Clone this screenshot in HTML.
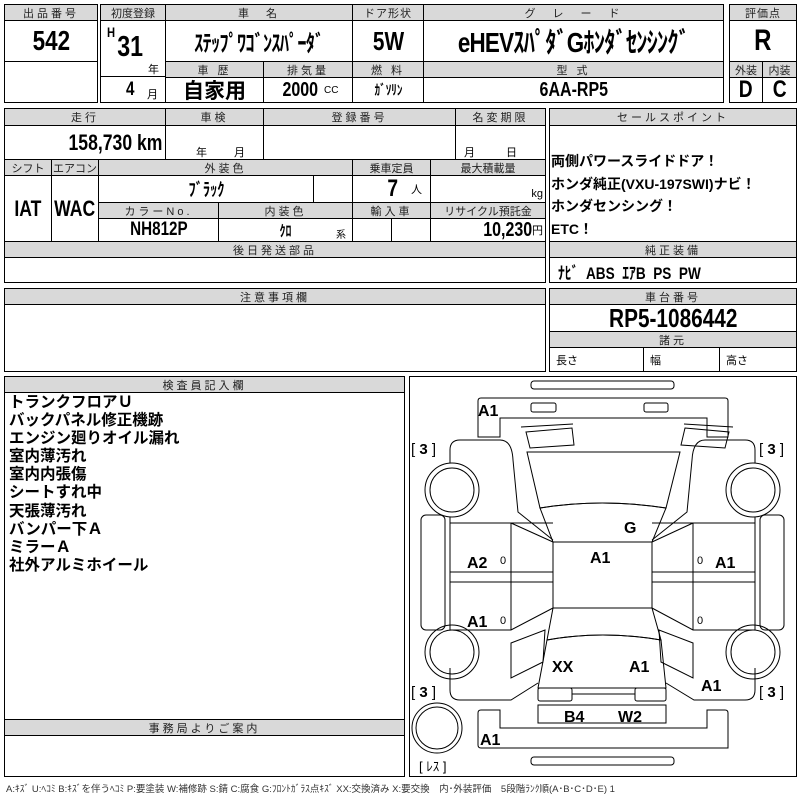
<!DOCTYPE html>
<html><head><meta charset="utf-8">
<style>
*{box-sizing:border-box;margin:0;padding:0}
body{width:800px;height:800px;background:#fff;position:relative;overflow:hidden;font-family:"Liberation Sans","Noto Sans CJK JP",sans-serif;color:#000}
.c{position:absolute;border:1px solid #000;display:flex;align-items:center;justify-content:center;white-space:nowrap;overflow:hidden}
.h{background:#d9d9d9;font-size:11px;letter-spacing:3px;color:#222}
.b{font-weight:bold}
.n{display:inline-block;transform:scaleX(.8)}
.nr{display:inline-block;transform:scaleX(.8);transform-origin:right center}
.t{position:absolute;white-space:nowrap}
.bx{position:absolute;border:1.5px solid #000}
</style></head><body>
<div class="bx" style="left:4px;top:4px;width:94px;height:99px"></div>
<div class="bx" style="left:100px;top:4px;width:624px;height:99px"></div>
<div class="bx" style="left:729px;top:4px;width:68px;height:99px"></div>

<div class="c h" style="left:4px;top:4px;width:94px;height:17px">出品番号</div>
<div class="c b" style="left:4px;top:20px;width:94px;height:42px;font-size:28px"><span class="n">542</span></div>
<div class="c" style="left:4px;top:61px;width:94px;height:42px"></div>

<div class="c h" style="left:100px;top:4px;width:66px;height:17px;letter-spacing:0">初度登録</div>
<div class="c h" style="left:165px;top:4px;width:188px;height:17px">車　名</div>
<div class="c h" style="left:352px;top:4px;width:72px;height:17px;letter-spacing:1px">ドア形状</div>
<div class="c h" style="left:423px;top:4px;width:301px;height:17px">グ　レ　ー　ド</div>
<div class="c" style="left:100px;top:20px;width:66px;height:83px"></div>
<div class="t b" style="left:106px;top:24px;font-size:14px"><span class="n">H</span></div>
<div class="t b" style="left:114px;top:31px;font-size:29px"><span class="n">31</span></div>
<div class="t" style="left:148px;top:61px;font-size:11px">年</div>
<div class="c" style="left:100px;top:76px;width:66px;height:27px;border-bottom:none;border-left:none;border-right:none"></div>
<div class="t b" style="left:125px;top:79px;font-size:19px"><span class="n">4</span></div>
<div class="t" style="left:147px;top:86px;font-size:11px">月</div>
<div class="c b" style="left:165px;top:20px;width:188px;height:42px;font-size:23px;letter-spacing:-1px"><span class="n">ｽﾃｯﾌﾟﾜｺﾞﾝｽﾊﾟｰﾀﾞ</span></div>
<div class="c b" style="left:352px;top:20px;width:72px;height:42px;font-size:26px"><span class="n">5W</span></div>
<div class="c b" style="left:423px;top:20px;width:301px;height:42px;font-size:28px;letter-spacing:-1px"><span class="n">eHEVｽﾊﾟﾀﾞGﾎﾝﾀﾞｾﾝｼﾝｸﾞ</span></div>
<div class="c h" style="left:165px;top:61px;width:99px;height:17px">車 歴</div>
<div class="c h" style="left:263px;top:61px;width:90px;height:17px">排気量</div>
<div class="c h" style="left:352px;top:61px;width:72px;height:17px">燃 料</div>
<div class="c h" style="left:423px;top:61px;width:301px;height:17px">型 式</div>
<div class="c" style="left:165px;top:77px;width:99px;height:26px;font-size:21px;font-weight:bold">自家用</div>
<div class="c b" style="left:263px;top:77px;width:90px;height:26px;font-size:20px"><span class="n">2000</span><span style="font-size:10px;font-weight:normal;margin-left:2px">CC</span></div>
<div class="c b" style="left:352px;top:77px;width:72px;height:26px;font-size:14px"><span class="n">ｶﾞｿﾘﾝ</span></div>
<div class="c b" style="left:423px;top:77px;width:301px;height:26px;font-size:20px"><span class="n">6AA-RP5</span></div>

<div class="c h" style="left:729px;top:4px;width:68px;height:17px;letter-spacing:1px">評価点</div>
<div class="c b" style="left:729px;top:20px;width:68px;height:42px;font-size:30px"><span class="n">R</span></div>
<div class="c h" style="left:729px;top:61px;width:34px;height:17px;letter-spacing:0">外装</div>
<div class="c h" style="left:762px;top:61px;width:35px;height:17px;letter-spacing:0">内装</div>
<div class="c b" style="left:729px;top:77px;width:34px;height:26px;font-size:24px"><span class="n">D</span></div>
<div class="c b" style="left:762px;top:77px;width:35px;height:26px;font-size:24px"><span class="n">C</span></div>

<div class="bx" style="left:4px;top:108px;width:542px;height:175px"></div>
<div class="c h" style="left:4px;top:108px;width:162px;height:18px">走行</div>
<div class="c h" style="left:165px;top:108px;width:99px;height:18px">車検</div>
<div class="c h" style="left:263px;top:108px;width:193px;height:18px">登録番号</div>
<div class="c h" style="left:455px;top:108px;width:91px;height:18px">名変期限</div>
<div class="c b" style="left:4px;top:125px;width:162px;height:35px;font-size:22px;justify-content:flex-end;padding-right:3px"><span class="nr">158,730 km</span></div>
<div class="c" style="left:165px;top:125px;width:99px;height:35px"></div>
<div class="t" style="left:196px;top:144px;font-size:11px">年</div>
<div class="t" style="left:234px;top:144px;font-size:11px">月</div>
<div class="c" style="left:263px;top:125px;width:193px;height:35px"></div>
<div class="c" style="left:455px;top:125px;width:91px;height:35px"></div>
<div class="t" style="left:464px;top:144px;font-size:11px">月</div>
<div class="t" style="left:506px;top:144px;font-size:11px">日</div>
<div class="c h" style="left:4px;top:159px;width:48px;height:17px;letter-spacing:0">シフト</div>
<div class="c h" style="left:51px;top:159px;width:48px;height:17px;letter-spacing:0">エアコン</div>
<div class="c h" style="left:98px;top:159px;width:255px;height:17px">外装色</div>
<div class="c h" style="left:352px;top:159px;width:79px;height:17px;letter-spacing:0">乗車定員</div>
<div class="c h" style="left:430px;top:159px;width:116px;height:17px;letter-spacing:0">最大積載量</div>
<div class="c b" style="left:4px;top:175px;width:48px;height:67px;font-size:22px"><span class="n">IAT</span></div>
<div class="c b" style="left:51px;top:175px;width:48px;height:67px;font-size:22px"><span class="n">WAC</span></div>
<div class="c b" style="left:98px;top:175px;width:216px;height:28px;font-size:18px"><span class="n">ﾌﾞﾗｯｸ</span></div>
<div class="c" style="left:313px;top:175px;width:40px;height:28px"></div>
<div class="c b" style="left:352px;top:175px;width:79px;height:28px;font-size:24px;justify-content:flex-end;padding-right:8px"><span class="n">7</span><span style="font-size:11px;font-weight:normal;margin-left:12px">人</span></div>
<div class="c" style="left:430px;top:175px;width:116px;height:28px;justify-content:flex-end;align-items:flex-end;padding:0 2px 2px 0;font-size:11px">kg</div>
<div class="c h" style="left:98px;top:202px;width:121px;height:17px">カラーNo.</div>
<div class="c h" style="left:218px;top:202px;width:135px;height:17px">内装色</div>
<div class="c h" style="left:352px;top:202px;width:79px;height:17px">輸入車</div>
<div class="c h" style="left:430px;top:202px;width:116px;height:17px;letter-spacing:0">リサイクル預託金</div>
<div class="c b" style="left:98px;top:218px;width:121px;height:24px;font-size:19px"><span class="n">NH812P</span></div>
<div class="c b" style="left:218px;top:218px;width:135px;height:24px;font-size:15px"><span class="n">ｸﾛ</span></div>
<div class="t" style="left:336px;top:226px;font-size:10px">系</div>
<div class="c" style="left:352px;top:218px;width:40px;height:24px"></div>
<div class="c" style="left:391px;top:218px;width:40px;height:24px"></div>
<div class="c b" style="left:430px;top:218px;width:116px;height:24px;font-size:20px;justify-content:flex-end;padding-right:2px"><span class="nr">10,230</span><span style="font-size:11px;font-weight:normal">円</span></div>
<div class="c h" style="left:4px;top:241px;width:542px;height:17px">後日発送部品</div>

<div class="bx" style="left:549px;top:108px;width:248px;height:175px"></div>
<div class="c h" style="left:549px;top:108px;width:248px;height:18px">セールスポイント</div>
<div class="t" style="left:551px;top:150px;font-size:14px;font-weight:bold;line-height:22.5px">両側パワースライドドア！<br>ホンダ純正(VXU-197SWI)ナビ！<br>ホンダセンシング！<br>ETC！</div>
<div class="c h" style="left:549px;top:241px;width:248px;height:17px">純正装備</div>
<div class="t b" style="left:558px;top:259px;font-size:17px;transform:scaleX(.8);transform-origin:left">ﾅﾋﾞ&nbsp; ABS&nbsp; ｴｱB&nbsp; PS&nbsp; PW</div>

<div class="bx" style="left:549px;top:288px;width:248px;height:84px"></div>
<div class="c h" style="left:549px;top:288px;width:248px;height:17px">車台番号</div>
<div class="c b" style="left:549px;top:304px;width:248px;height:28px;font-size:26px"><span class="n">RP5-1086442</span></div>
<div class="c h" style="left:549px;top:331px;width:248px;height:17px">諸元</div>
<div class="c" style="left:549px;top:347px;width:95px;height:25px;justify-content:flex-start;padding-left:6px;font-size:11px">長さ</div>
<div class="c" style="left:643px;top:347px;width:77px;height:25px;justify-content:flex-start;padding-left:6px;font-size:11px">幅</div>
<div class="c" style="left:719px;top:347px;width:78px;height:25px;justify-content:flex-start;padding-left:6px;font-size:11px">高さ</div>

<div class="bx" style="left:4px;top:288px;width:542px;height:84px"></div>
<div class="c h" style="left:4px;top:288px;width:542px;height:17px">注意事項欄</div>

<div class="bx" style="left:4px;top:376px;width:401px;height:401px"></div>
<div class="c h" style="left:4px;top:376px;width:401px;height:17px">検査員記入欄</div>
<div class="t" style="left:9px;top:394px;font-size:15.5px;font-weight:bold;line-height:18.1px">トランクフロアＵ<br>バックパネル修正機跡<br>エンジン廻りオイル漏れ<br>室内薄汚れ<br>室内内張傷<br>シートすれ中<br>天張薄汚れ<br>バンパー下Ａ<br>ミラーＡ<br>社外アルミホイール</div>
<div class="c h" style="left:4px;top:719px;width:401px;height:17px">事務局よりご案内</div>

<div class="bx" style="left:409px;top:376px;width:388px;height:401px"></div>
<div class="t" style="left:6px;top:781px;font-size:9.5px;color:#333">A:ｷｽﾞ U:ﾍｺﾐ B:ｷｽﾞを伴うﾍｺﾐ P:要塗装 W:補修跡 S:錆 C:腐食 G:ﾌﾛﾝﾄｶﾞﾗｽ点ｷｽﾞ XX:交換済み X:要交換　内･外装評価　5段階ﾗﾝｸ順(A･B･C･D･E) 1</div>

<svg width="800" height="800" style="position:absolute;left:0;top:0" fill="none" stroke="#000" stroke-width="1">
<rect x="531" y="381" width="143" height="8" rx="3"/>
<path d="M481 398 H725 Q728 398 728 401 V437 H707 V418 H500 V437 H478 V401 Q478 398 481 398Z"/>
<rect x="531" y="403" width="25" height="9" rx="2"/><rect x="644" y="403" width="24" height="9" rx="2"/>
<path d="M521 427 L573 424 M526 432 L572 428 L574 445 L530 448Z"/>
<path d="M684 424 L733 427 M685 428 L729 432 L725 448 L681 445Z"/>
<path d="M527 452 L680 452 L666 508 Q602 498 540 508Z"/>
<path d="M540 508 Q602 498 666 508 L652 542 L553 542Z"/>
<rect x="553" y="542" width="99" height="66"/>
<path d="M553 608 L652 608 L661 640 Q602 630 547 640Z"/>
<path d="M547 640 Q602 630 661 640 L666 688 L538 688Z"/>
<rect x="538" y="688" width="34" height="13" rx="2"/><rect x="635" y="688" width="31" height="13" rx="2"/>
<path d="M572 694 H635"/>
<rect x="538" y="705" width="128" height="18"/>
<path d="M481 710 H500 V728 H707 V710 H725 Q728 710 728 713 V748 H481 Q478 748 478 745 V713 Q478 710 481 710Z"/>
<rect x="531" y="757" width="143" height="8" rx="3"/>
<path d="M450 463 V450 Q450 440 460 440 H500 Q512 440 513 460 L518 512 L553 540 M450 517 V523 H553"/>
<path d="M755 463 V450 Q755 440 745 440 H705 Q693 440 692 460 L687 512 L652 540 M755 517 V523 H652"/>
<path d="M450 523 V630 H511 L553 608 M511 523 V630 M450 572 H553 M450 582 H553 M511 523 L553 542"/>
<path d="M755 523 V630 H693 L652 608 M693 523 V630 M755 572 H652 M755 582 H652 M693 523 L652 542"/>
<path d="M511 643 L545 630 L543 662 L511 678Z"/>
<path d="M693 643 L659 630 L661 662 L693 678Z"/>
<path d="M450 668 V690 Q450 700 460 700 H511 L538 683"/>
<path d="M755 668 V690 Q755 700 745 700 H694 L666 683"/>
<rect x="421" y="515" width="24" height="115" rx="5"/><rect x="760" y="515" width="24" height="115" rx="5"/>
<circle cx="452" cy="490" r="27"/><circle cx="452" cy="490" r="22"/>
<circle cx="753" cy="490" r="27"/><circle cx="753" cy="490" r="22"/>
<circle cx="452" cy="652" r="27"/><circle cx="452" cy="652" r="22"/>
<circle cx="753" cy="652" r="27"/><circle cx="753" cy="652" r="22"/>
<circle cx="437" cy="728" r="25"/><circle cx="437" cy="728" r="21"/>
<g fill="#000" stroke="none" font-family="Liberation Sans, sans-serif" font-weight="bold" font-size="16">
<text x="478" y="416">A1</text><text x="624" y="533">G</text><text x="590" y="563">A1</text>
<text x="467" y="568">A2</text><text x="715" y="568">A1</text><text x="467" y="627">A1</text>
<text x="552" y="672">XX</text><text x="629" y="672">A1</text><text x="701" y="691">A1</text>
<text x="564" y="722">B4</text><text x="618" y="722">W2</text><text x="480" y="745">A1</text>
</g>
<g fill="#000" stroke="none" font-family="Liberation Sans, sans-serif" font-size="11">
<text x="500" y="564">0</text><text x="697" y="564">0</text><text x="500" y="624">0</text><text x="697" y="624">0</text>
</g>
<g fill="#000" stroke="none" font-family="Liberation Sans, Noto Sans CJK JP, sans-serif" font-size="15">
<text x="411" y="454">[ <tspan font-weight="bold">3</tspan> ]</text><text x="759" y="454">[ <tspan font-weight="bold">3</tspan> ]</text>
<text x="411" y="697">[ <tspan font-weight="bold">3</tspan> ]</text><text x="759" y="697">[ <tspan font-weight="bold">3</tspan> ]</text>
<text x="419" y="771" font-size="13">[ ﾚｽ ]</text>
</g>
</svg>
</body></html>
